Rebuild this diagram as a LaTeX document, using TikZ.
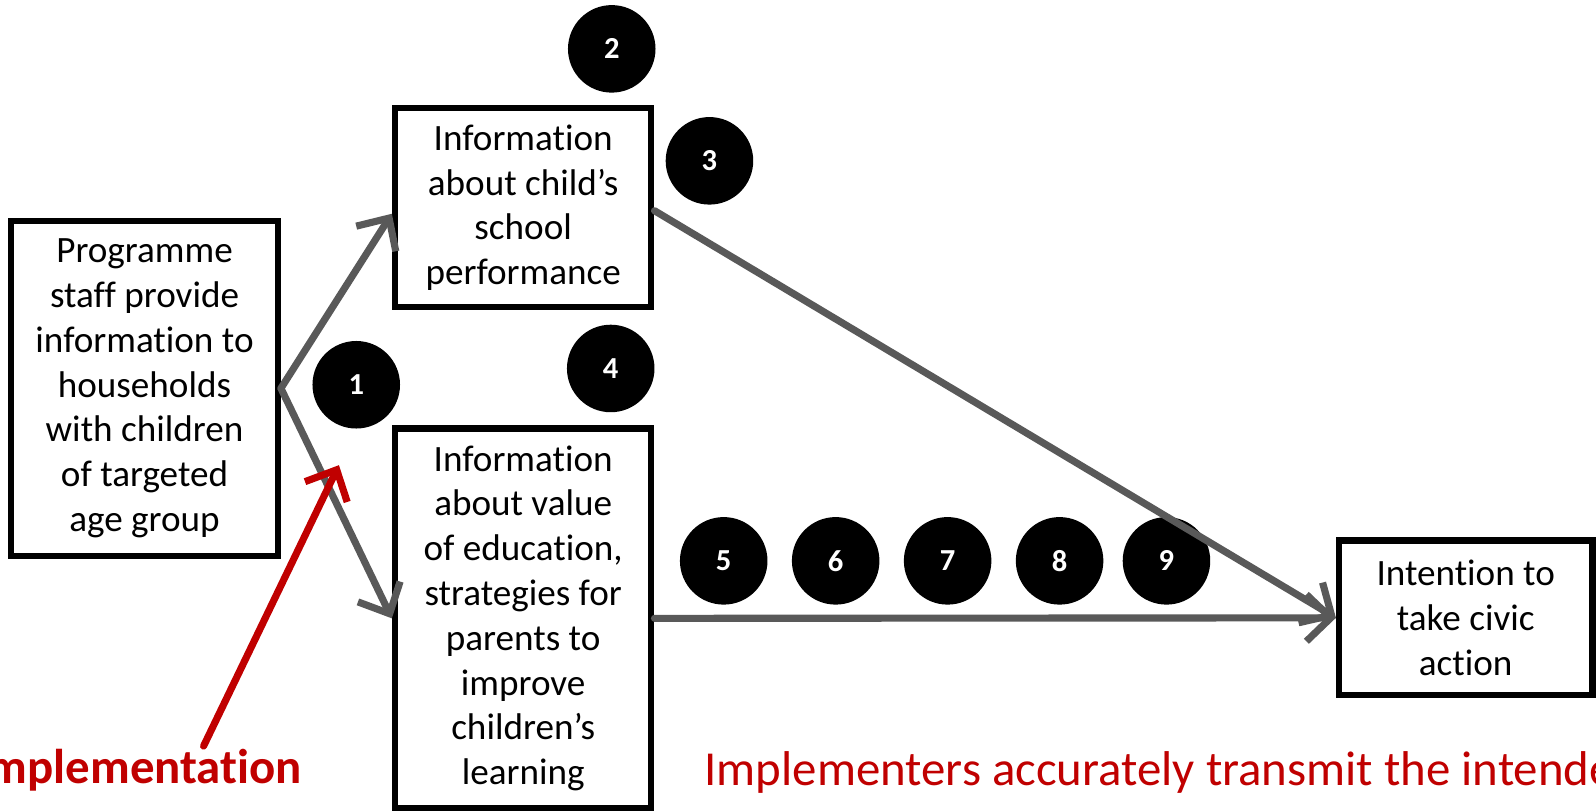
\documentclass[tikz,border=0pt]{standalone}
\usepackage{fontspec}
\setmainfont{Carlito}[Ligatures=NoCommon]
\usetikzlibrary{arrows.meta,calc}
\definecolor{arrowgray}{HTML}{595959}
\definecolor{darkred}{HTML}{C00000}
\tikzset{
  box/.style={draw=black, line width=6pt, fill=white, align=center, inner sep=0pt,
    font=\fontsize{36.5}{44}\selectfont},
  num/.style={circle, fill=black, minimum size=86pt, inner sep=0pt, text=white,
    font=\fontsize{30}{34}\selectfont\bfseries},
  link/.style={draw=arrowgray, line width=7pt, line cap=round,
    -{Straight Barb[length=24pt,width=46pt,line width=7pt]}},
  redlink/.style={draw=darkred, line width=7pt, line cap=round,
    -{Straight Barb[length=24pt,width=46pt,line width=7pt]}},
  redtext/.style={text=darkred, inner sep=0pt}
}
\begin{document}
\begin{tikzpicture}[x=1pt,y=-1pt]
\useasboundingbox (0,0) rectangle (1568,797.7);
\clip (0,0) rectangle (1568,797.7);
\fill[white] (0,0) rectangle (1568,797.7);

% boxes
\node[box, minimum width=262pt, minimum height=329pt] (A) at (142,381.5)
  {Programme\\staff provide\\information to\\households\\with children\\of targeted\\age group};
\node[box, minimum width=252pt, minimum height=196pt] (B) at (514,204)
  {Information\\about child’s\\school\\performance};
\node[box, minimum width=252pt, minimum height=373pt] (C) at (514,607.5)
  {Information\\about value\\of education,\\strategies for\\parents to\\improve\\children’s\\learning};
\node[box, minimum width=249pt, minimum height=152pt] (D) at (1440,607)
  {Intention to\\take civic\\action};

% numbered circles
\node[num] (n1) at (350,378) {1};
\node[num] (n2) at (601,48) {2};
\node[num] (n3) at (697,158) {3};
\node[num] (n4) at (600,362) {4};
\node[num] (n5) at (711,551) {5};
\node[num] (n6) at (821,551) {6};
\node[num] (n7) at (931,551) {7};
\node[num] (n8) at (1041,551) {8};
\node[num] (n9) at (1146,551) {9};

% connectors
\draw[link] (A.east) -- ($(B.west)+(0,6)$);
\draw[link] (A.east) -- (C.west);
\draw[link] ($(B.east)+(0,3)$) -- (D.west);
\draw[link] (C.east) -- (D.west);

% red annotation
\node[redtext, anchor=base, font=\fontsize{48}{58}\selectfont\bfseries] (impl) at (136,770) {Implementation};
\coordinate (rs) at (200,733);
\coordinate (rt) at (333,457);
\draw[redlink] (rs) -- (rt);

\node[redtext, anchor=base west, align=left, font=\fontsize{48}{62}\selectfont] (fid) at (692,834)
  {Implementers accurately transmit the intended\\information materials/fidelity to protocol};
\end{tikzpicture}
\end{document}
